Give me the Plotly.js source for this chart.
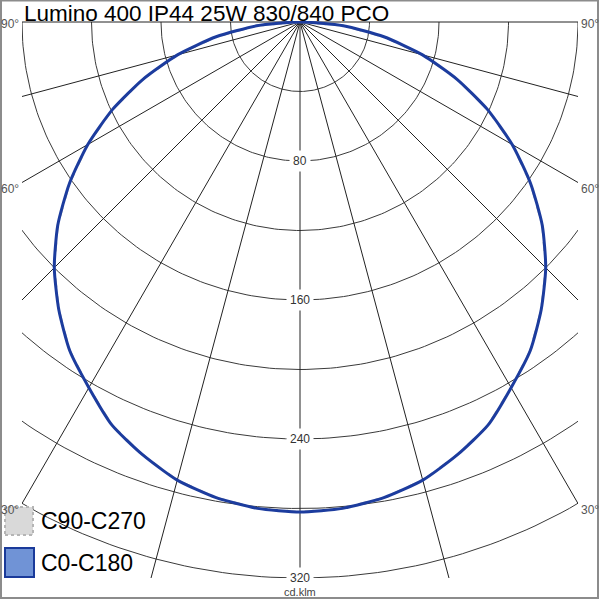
<!DOCTYPE html>
<html><head><meta charset="utf-8">
<script src="https://cdn.plot.ly/plotly-3.0.1.min.js"></script>
<style>html,body{margin:0;padding:0;background:#fff;} #chart{width:600px;height:600px;}</style>
</head><body><div id="chart"></div>
<script>
// ---- data ----
const chartTitle = 'Lumino 400 IP44 25W 830/840 PCO';
const gammaDeg = [0, 5, 10, 15, 20, 25, 30, 35, 40, 45, 50, 55, 60, 65, 70, 75, 80, 85, 90];
const intensityC0C180 = [282, 281, 278, 273, 265, 256, 243, 231, 216, 200, 182, 162, 141, 119, 96, 73, 49, 25, 0];
const intensityC90C270 = [282, 281, 278, 273, 265, 256, 243, 231, 216, 200, 182, 162, 141, 119, 96, 73, 49, 25, 0];
const radialGrid = [40, 80, 120, 160, 200, 240, 280, 320];
const radialLabels = [80, 160, 240, 320];
const spokeAngles = [-90, -75, -60, -45, -30, -15, 0, 15, 30, 45, 60, 75, 90];
const angleLabels = [30, 60, 90];
const legendNames = ['C90-C270', 'C0-C180'];
const unitLabel = 'cd.klm';

// ---- helpers ----
const rad = d => d * Math.PI / 180;
const L = 22, R = 22, T = 21, B = 22, W = 600, H = 600;
const pw = W - L - R, ph = H - T - B;
const px2x = px => (px - L) / pw;
const py2y = py => 1 - (py - T) / ph;
const FONT = 'Liberation Sans, Arial, sans-serif';

function polarCurve(vals) {
  const xs = [], ys = [];
  for (let i = gammaDeg.length - 1; i >= 0; i--) {
    xs.push(-vals[i] * Math.sin(rad(gammaDeg[i])));
    ys.push(-vals[i] * Math.cos(rad(gammaDeg[i])));
  }
  for (let i = 1; i < gammaDeg.length; i++) {
    xs.push(vals[i] * Math.sin(rad(gammaDeg[i])));
    ys.push(-vals[i] * Math.cos(rad(gammaDeg[i])));
  }
  return { xs, ys };
}

const traces = [];
// grid circles
radialGrid.forEach(r => {
  const xs = [], ys = [];
  for (let a = -90; a <= 90; a += 1) { xs.push(r * Math.sin(rad(a))); ys.push(-r * Math.cos(rad(a))); }
  traces.push({ x: xs, y: ys, mode: 'lines', line: { color: '#3a3a3a', width: 1 }, hoverinfo: 'skip', showlegend: false });
});
// spokes
spokeAngles.forEach(a => {
  const len = 400;
  traces.push({ x: [0, len * Math.sin(rad(a))], y: [0, -len * Math.cos(rad(a))], mode: 'lines',
    line: { color: '#222', width: 1 }, hoverinfo: 'skip', showlegend: false });
});
// curves
const c90 = polarCurve(intensityC90C270);
traces.push({ x: c90.xs, y: c90.ys, mode: 'lines', name: legendNames[0],
  line: { color: '#b0b0b0', width: 2, dash: 'dash' }, showlegend: false });
const c0 = polarCurve(intensityC0C180);
traces.push({ x: c0.xs, y: c0.ys, mode: 'lines', name: legendNames[1],
  line: { color: '#1c3c9e', width: 3, shape: 'spline', smoothing: 0.6 }, showlegend: false });

const annotations = [];
radialLabels.forEach(r => {
  annotations.push({ x: 0, y: -r, xref: 'x', yref: 'y', text: String(r), showarrow: false,
    font: { family: FONT, size: 12, color: '#333' }, bgcolor: '#fff', borderpad: 3,
    xanchor: 'center', yanchor: 'middle' });
});
angleLabels.forEach(a => {
  const yEnd = a === 90 ? 0 : -160 / Math.tan(rad(a));
  [-1, 1].forEach(side => {
    annotations.push({ x: side * 160, y: yEnd, xref: 'x', yref: 'y', text: a + '°', showarrow: false,
      font: { family: FONT, size: 12, color: '#555' }, xanchor: side < 0 ? 'right' : 'left',
      yanchor: 'middle', yshift: a === 90 ? -2 : -6, xshift: side < 0 ? -1 : 1 });
  });
});
annotations.push({ x: 0, y: py2y(592), xref: 'x', yref: 'paper', text: unitLabel, showarrow: false,
  font: { family: FONT, size: 11, color: '#444' }, xanchor: 'center', yanchor: 'middle' });
annotations.push({ x: px2x(39), y: py2y(521), xref: 'paper', yref: 'paper', text: legendNames[0], showarrow: false,
  font: { family: FONT, size: 23, color: '#000' }, xanchor: 'left', yanchor: 'middle' });
annotations.push({ x: px2x(39), y: py2y(563), xref: 'paper', yref: 'paper', text: legendNames[1], showarrow: false,
  font: { family: FONT, size: 23, color: '#000' }, xanchor: 'left', yanchor: 'middle' });

const shapes = [
  { type: 'rect', xref: 'paper', yref: 'paper', x0: px2x(5), x1: px2x(33), y0: py2y(535), y1: py2y(507),
    fillcolor: '#d9d9d9', line: { color: '#b5b5b5', width: 2, dash: 'dot' }, layer: 'above' },
  { type: 'rect', xref: 'paper', yref: 'paper', x0: px2x(5), x1: px2x(34), y0: py2y(577), y1: py2y(548),
    fillcolor: '#7093d6', line: { color: '#1a3a9a', width: 2 }, layer: 'above' },
  { type: 'rect', xref: 'paper', yref: 'paper', x0: px2x(1), x1: px2x(598), y0: py2y(598), y1: py2y(0.5),
    fillcolor: 'rgba(0,0,0,0)', line: { color: '#8c8c8c', width: 2 }, layer: 'above' }
];

const layout = {
  width: W, height: H,
  margin: { l: L, r: R, t: T, b: B, pad: 0 },
  paper_bgcolor: '#fff', plot_bgcolor: '#fff',
  title: { text: chartTitle, font: { family: FONT, size: 22.5, color: '#000' },
    x: 24 / 600, xref: 'container', xanchor: 'left', y: 1 - 13 / 600, yref: 'container', yanchor: 'middle' },
  xaxis: { range: [-160, 160], visible: false, fixedrange: true },
  yaxis: { range: [-320, ph / (pw / 320) - 320], visible: false, fixedrange: true },
  showlegend: false,
  annotations, shapes
};
Plotly.newPlot('chart', traces, layout, { staticPlot: true, displayModeBar: false });
</script>
</body></html>
